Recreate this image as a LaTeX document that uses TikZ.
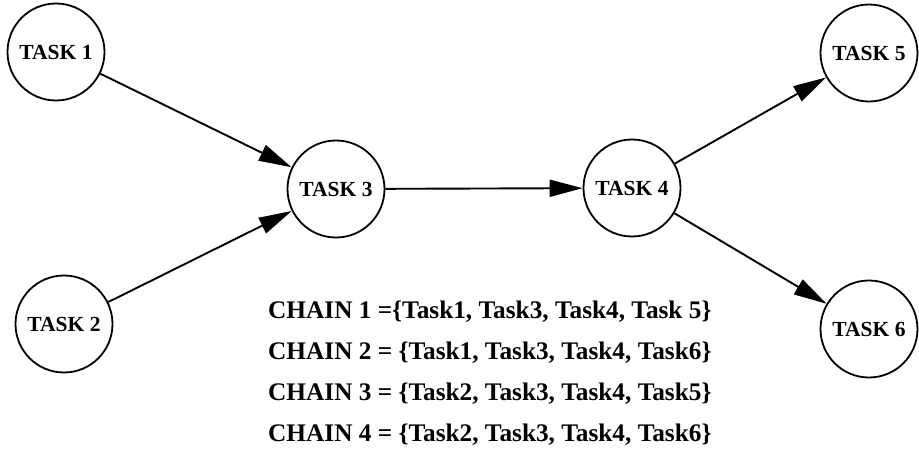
\documentclass[tikz,border=0pt]{standalone}
\usepackage{fontspec}
\setmainfont{Liberation Serif}
\usetikzlibrary{arrows.meta}
\begin{document}
\begin{tikzpicture}[x=1pt,y=-1pt,
  task/.style={circle,draw,line width=1.8pt,minimum size=97pt,inner sep=0pt,
    font=\bfseries\fontsize{21.5}{21.5}\selectfont},
  flow/.style={line width=1.9pt,-{Triangle[length=33pt,width=17pt]}},
  chain/.style={anchor=base west,inner sep=0pt,font=\bfseries\fontsize{25.3}{25.3}\selectfont}]
\useasboundingbox (0,0) rectangle (919,466);

% task nodes
\node[task] (t1) at (56,52) {TASK 1};
\node[task] (t2) at (64,324) {TASK 2};
\node[task] (t3) at (336,189) {TASK 3};
\node[task] (t4) at (632,188) {TASK 4};
\node[task] (t5) at (869,53) {TASK 5};
\node[task] (t6) at (869,329) {TASK 6};

% precedence edges
\draw[flow] (t1) -- (t3);
\draw[flow] (t2) -- (t3);
\draw[flow] (t3) -- (t4);
\draw[flow] (t4) -- (t5);
\draw[flow] (t4) -- (t6);

% chain listing
\node[chain] (c1) at (268,318) {CHAIN 1 =\{Task1, Task3, Task4, Task 5\}};
\node[chain] (c2) at (268,359) {CHAIN 2 = \{Task1, Task3, Task4, Task6\}};
\node[chain] (c3) at (268,400) {CHAIN 3 = \{Task2, Task3, Task4, Task5\}};
\node[chain] (c4) at (268,441) {CHAIN 4 = \{Task2, Task3, Task4, Task6\}};
\end{tikzpicture}
\end{document}
